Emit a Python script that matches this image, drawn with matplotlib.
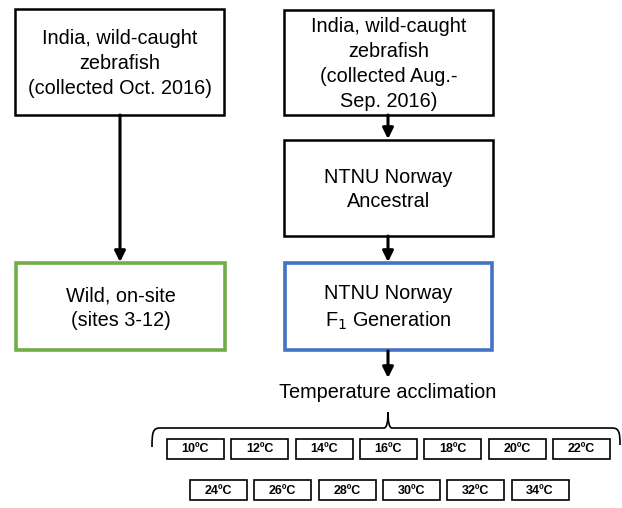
import matplotlib.pyplot as plt
from matplotlib.patches import Rectangle, FancyArrowPatch
from matplotlib.path import Path
from matplotlib.patches import PathPatch

plt.rcParams['font.family'] = ['Liberation Sans', 'DejaVu Sans']

# ---- Text content
box_labels = [
    "India, wild-caught\nzebrafish\n(collected Oct. 2016)",
    "India, wild-caught\nzebrafish\n(collected Aug.-\nSep. 2016)",
    "NTNU Norway\nAncestral",
    "Wild, on-site\n(sites 3-12)",
    "NTNU Norway\nF$_1$ Generation",
]
temps_row1 = [10, 12, 14, 16, 18, 20, 22]
temps_row2 = [24, 26, 28, 30, 32, 34]

# ---- Layout (pixels, y down)
boxes = [  # x0, y0, x1, y1, edge colour, linewidth
    (15, 9, 224, 115, "black", 1.8),
    (284, 10, 493, 115, "black", 1.8),
    (284, 140, 493, 236, "black", 1.8),
    (16, 263, 225, 350, "#70ad47", 2.6),
    (285, 263, 492, 350, "#4472c4", 2.6),
]

fig = plt.figure(figsize=(6.22, 5.08), dpi=100)
ax = fig.add_axes([0, 0, 1, 1])
ax.set_xlim(0, 622)
ax.set_ylim(508, 0)
ax.axis("off")

for (x0, y0, x1, y1, col, lw), lab in zip(boxes, box_labels):
    ax.add_patch(Rectangle((x0, y0), x1 - x0, y1 - y0, fill=False,
                           edgecolor=col, linewidth=lw))
    ax.text((x0 + x1) / 2, (y0 + y1) / 2 + 1.5, lab, ha="center", va="center",
            fontsize=14.3, linespacing=1.38)


def arrow(x, y0, y1):
    ax.add_patch(FancyArrowPatch((x, y0), (x, y1), arrowstyle="-|>",
                                 mutation_scale=16, linewidth=2.2,
                                 color="black", shrinkA=0, shrinkB=0))


arrow(120, 115, 262)
arrow(388, 115, 139)
arrow(388, 236, 262)
arrow(388, 351, 378)

ax.text(388, 393, "Temperature acclimation", ha="center", va="center",
        fontsize=14.3)

# ---- Brace
verts = [(152, 447), (152, 432), (153, 428), (160, 428),
         (384, 428), (387, 428), (388, 421), (388, 412),
         (388, 421), (389, 428), (392, 428),
         (612, 428), (619, 428), (620, 432), (620, 445)]
codes = [Path.MOVETO, Path.CURVE4, Path.CURVE4, Path.CURVE4,
         Path.LINETO, Path.CURVE4, Path.CURVE4, Path.CURVE4,
         Path.CURVE4, Path.CURVE4, Path.CURVE4,
         Path.LINETO, Path.CURVE4, Path.CURVE4, Path.CURVE4]
ax.add_patch(PathPatch(Path(verts, codes), fill=False, linewidth=1.2,
                       edgecolor="black"))

# ---- Temperature boxes
for start, top, temps in [(167, 439, temps_row1), (190, 480, temps_row2)]:
    for i, t in enumerate(temps):
        x0 = start + i * 64.3
        ax.add_patch(Rectangle((x0, top), 57, 20, fill=False,
                               edgecolor="black", linewidth=1.2))
        ax.text(x0 + 28.5, top + 10.5, f"{t}ºC", ha="center", va="center",
                fontsize=9, fontweight="bold")

fig.savefig("out.png", dpi=100)
